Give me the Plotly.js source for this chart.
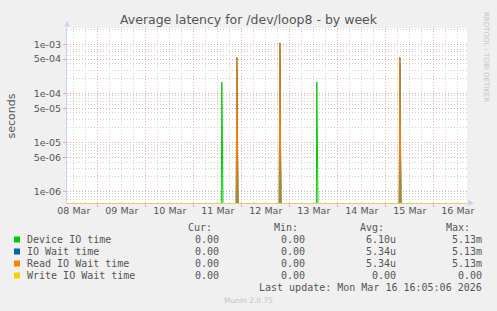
<!DOCTYPE html>
<html><head><meta charset="utf-8">
<script src="https://cdn.plot.ly/plotly-3.0.1.min.js"></script>
<style>html,body{margin:0;padding:0;background:#f0f0f0;}#chart{width:497px;height:311px;}</style>
</head><body><div id="chart"></div>
<script>
// ---- data ----
const seriesNames = ['Device IO time', 'IO Wait time', 'Read IO Wait time', 'Write IO Wait time'];
const seriesColors = ['#00cc00', '#0066b3', '#ff8000', '#ffcc00'];
const curValues = ['0.00', '0.00', '0.00', '0.00'];
const minValues = ['0.00', '0.00', '0.00', '0.00'];
const avgValues = ['6.10u', '5.34u', '5.34u', '0.00'];
const maxValues = ['5.13m', '5.13m', '5.13m', '0.00'];

// 30-minute samples around each non-zero period (zero elsewhere)
const deviceTimes = [
  '2026-03-11 13:30', '2026-03-11 14:00', '2026-03-11 14:30', '2026-03-11 15:00',
  '2026-03-11 21:00', '2026-03-11 21:30', '2026-03-11 22:00', '2026-03-11 22:30',
  '2026-03-12 18:30', '2026-03-12 19:00', '2026-03-12 19:30', '2026-03-12 20:00',
  '2026-03-13 13:00', '2026-03-13 13:30', '2026-03-13 14:00', '2026-03-13 14:30',
  '2026-03-15 06:30', '2026-03-15 07:00', '2026-03-15 07:30', '2026-03-15 08:00'
];
const deviceValues = [
  0, 1.71e-4, 1.5e-6, 0,
  0, 3.0e-4, 1.5e-6, 0,
  0, 8.0e-4, 1.5e-6, 0,
  0, 1.71e-4, 1.5e-6, 0,
  0, 4.0e-4, 1.5e-6, 0
];
const ioWaitTimes = [
  '2026-03-11 21:00', '2026-03-11 21:30', '2026-03-11 22:00', '2026-03-11 22:30',
  '2026-03-12 18:30', '2026-03-12 19:00', '2026-03-12 19:30', '2026-03-12 20:00',
  '2026-03-15 06:30', '2026-03-15 07:00', '2026-03-15 07:30', '2026-03-15 08:00'
];
const ioWaitValues = [
  0, 5.4e-4, 1.5e-6, 0,
  0, 1.07e-3, 1.5e-6, 0,
  0, 5.4e-4, 1.5e-6, 0
];
const readWaitTimes = ioWaitTimes;
const readWaitValues = [
  0, 5.4e-4, 1.5e-6, 0,
  0, 1.07e-3, 1.5e-6, 0,
  0, 5.4e-4, 1.5e-6, 0
];
const writeWaitTimes = ['2026-03-08 08:30', '2026-03-16 16:30'];
const writeWaitValues = [0, 0];

const dayTicks = ['2026-03-09', '2026-03-10', '2026-03-11', '2026-03-12', '2026-03-13', '2026-03-14', '2026-03-15', '2026-03-16'];
const dayLabelTimes = ['2026-03-08 12:00', '2026-03-09 12:00', '2026-03-10 12:00', '2026-03-11 12:00', '2026-03-12 12:00', '2026-03-13 12:00', '2026-03-14 12:00', '2026-03-15 12:00', '2026-03-16 12:00'];
const dayLabels = ['08 Mar', '09 Mar', '10 Mar', '11 Mar', '12 Mar', '13 Mar', '14 Mar', '15 Mar', '16 Mar'];
const yTickVals = [1e-6, 5e-6, 1e-5, 5e-5, 1e-4, 5e-4, 1e-3];
const yTickText = ['1e-06', '5e-06', '1e-05', '5e-05', '1e-04', '5e-04', '1e-03'];

// ---- geometry helpers (plot area in px) ----
const W = 497, H = 311, L = 67, R = 467, T = 28, B = 203;
const px = x => (x - L) / (R - L);
const py = y => (B - y) / (B - T);

// rrdtool clamps zero values far below the log axis
const FLOOR = 1e-9;
const clamp = arr => arr.map(v => v > 0 ? v : FLOOR);

const seriesTimes = [deviceTimes, ioWaitTimes, readWaitTimes, writeWaitTimes];
const seriesValues = [deviceValues, ioWaitValues, readWaitValues, writeWaitValues];
const traces = seriesNames.map((n, i) => ({
  type: 'scatter', mode: 'lines', name: n,
  x: seriesTimes[i], y: clamp(seriesValues[i]),
  line: {color: seriesColors[i], width: 1},
  xaxis: i === 3 ? 'x2' : 'x', hoverinfo: 'skip'
}));

// minor log grid values
const minorY = [];
for (let e = -7; e <= -3; e++) {
  for (const m of [2, 3, 4, 6, 7, 8, 9]) minorY.push(m * Math.pow(10, e));
}

const MGRID = '#e8a8a8', GRID = '#d0d0d0', TXT = '#555555';
const DASH = '1px,2px';
const X0 = '2026-03-08 08:36', X1 = '2026-03-16 16:36';

const ann = [];
const mono = {family: 'DejaVu Sans Mono', size: 10, color: TXT};
const colEnds = [219.5, 305.5, 397, 483];
const headEnds = [213, 299, 385, 471];
const heads = ['Cur:', 'Min:', 'Avg:', 'Max:'];
const cols = [curValues, minValues, avgValues, maxValues];
heads.forEach((h, j) => ann.push({xref: 'paper', yref: 'paper', x: px(headEnds[j]), y: py(227), text: h, showarrow: false, xanchor: 'right', yanchor: 'middle', font: mono, borderpad: 0}));
const rowY = [239.5, 251.5, 263.5, 275.5];
const shapes = [];
seriesNames.forEach((n, i) => {
  ann.push({xref: 'paper', yref: 'paper', x: px(26), y: py(rowY[i]), text: n, showarrow: false, xanchor: 'left', yanchor: 'middle', font: mono, borderpad: 0});
  cols.forEach((c, j) => ann.push({xref: 'paper', yref: 'paper', x: px(colEnds[j]), y: py(rowY[i]), text: c[i], showarrow: false, xanchor: 'right', yanchor: 'middle', font: mono, borderpad: 0}));
  shapes.push({type: 'rect', xref: 'paper', yref: 'paper', x0: px(14), x1: px(20), y0: py(rowY[i] + 3), y1: py(rowY[i] - 3), fillcolor: seriesColors[i], line: {width: 0}});
});
ann.push({xref: 'paper', yref: 'paper', x: px(483), y: py(287.7), text: 'Last update: Mon Mar 16 16:05:06 2026', showarrow: false, xanchor: 'right', yanchor: 'middle', font: mono, borderpad: 0});
ann.push({xref: 'paper', yref: 'paper', x: px(248), y: py(300), text: 'Munin 2.0.75', showarrow: false, xanchor: 'center', yanchor: 'middle', font: {family: 'DejaVu Sans', size: 7.5, color: '#c4c4c4'}, borderpad: 0});
ann.push({xref: 'paper', yref: 'paper', x: px(486), y: py(57), text: 'RRDTOOL / TOBI OETIKER', textangle: 90, showarrow: false, xanchor: 'center', yanchor: 'middle', font: {family: 'DejaVu Sans', size: 7, color: '#c4c4c4'}, borderpad: 0});
ann.push({xref: 'paper', yref: 'paper', x: px(11), y: py(115.5), text: 'seconds', textangle: -90, showarrow: false, xanchor: 'center', yanchor: 'middle', font: {family: 'DejaVu Sans', size: 11, color: TXT}, borderpad: 0});

// axis arrows
const AX = '#c8d4f4';
shapes.push({type: 'path', xref: 'paper', yref: 'paper', path: `M ${px(64.3)} ${py(26.5)} L ${px(69.7)} ${py(26.5)} L ${px(67)} ${py(20.5)} Z`, fillcolor: AX, line: {width: 0}});
shapes.push({type: 'path', xref: 'paper', yref: 'paper', path: `M ${px(468)} ${py(200)} L ${px(468)} ${py(206)} L ${px(474)} ${py(203)} Z`, fillcolor: AX, line: {width: 0}});

const layout = {
  width: W, height: H,
  paper_bgcolor: '#f0f0f0', plot_bgcolor: '#ffffff',
  margin: {l: L, r: W - R, t: T, b: H - B, pad: 0},
  showlegend: false,
  title: {text: 'Average latency for /dev/loop8 - by week', font: {family: 'DejaVu Sans', size: 12.5, color: TXT}, x: 0.5, xref: 'container', xanchor: 'center', y: 1 - 19.5 / H, yref: 'container', yanchor: 'middle'},
  xaxis: {
    type: 'date', range: [X0, X1], tickmode: 'array', tickvals: dayTicks, ticktext: dayTicks.map(() => ''),
    showgrid: true, gridcolor: MGRID, griddash: DASH, gridwidth: 1,
    ticks: 'outside', ticklen: 3, tickcolor: MGRID, tickwidth: 1,
    showline: true, linecolor: '#e8cc66', linewidth: 1, zeroline: false, fixedrange: true,
    minor: {dtick: 6 * 3600 * 1000, tick0: '2026-03-08', showgrid: true, gridcolor: GRID, griddash: DASH, gridwidth: 1, ticks: ''},
    layer: 'below traces'
  },
  xaxis2: {
    type: 'date', range: [X0, X1], overlaying: 'x', side: 'bottom', tickmode: 'array', tickvals: dayLabelTimes, ticktext: dayLabels,
    showgrid: false, ticks: '', showline: false, zeroline: false, fixedrange: true,
    tickfont: {family: 'DejaVu Sans', size: 9.5, color: TXT}
  },
  yaxis: {
    type: 'log', range: [-6.230, -2.668], tickmode: 'array', tickvals: yTickVals, ticktext: yTickText,
    showgrid: true, gridcolor: MGRID, griddash: DASH, gridwidth: 1,
    ticks: 'outside', ticklen: 3, tickcolor: MGRID, tickwidth: 1,
    showline: true, linecolor: AX, linewidth: 1, zeroline: false, fixedrange: true,
    tickfont: {family: 'DejaVu Sans', size: 9.5, color: TXT},
    minor: {tickmode: 'array', tickvals: minorY, showgrid: true, gridcolor: GRID, griddash: DASH, gridwidth: 1, ticks: ''}
  },
  annotations: ann, shapes: shapes
};
Plotly.newPlot('chart', traces, layout, {staticPlot: true, displayModeBar: false});
</script></body></html>
